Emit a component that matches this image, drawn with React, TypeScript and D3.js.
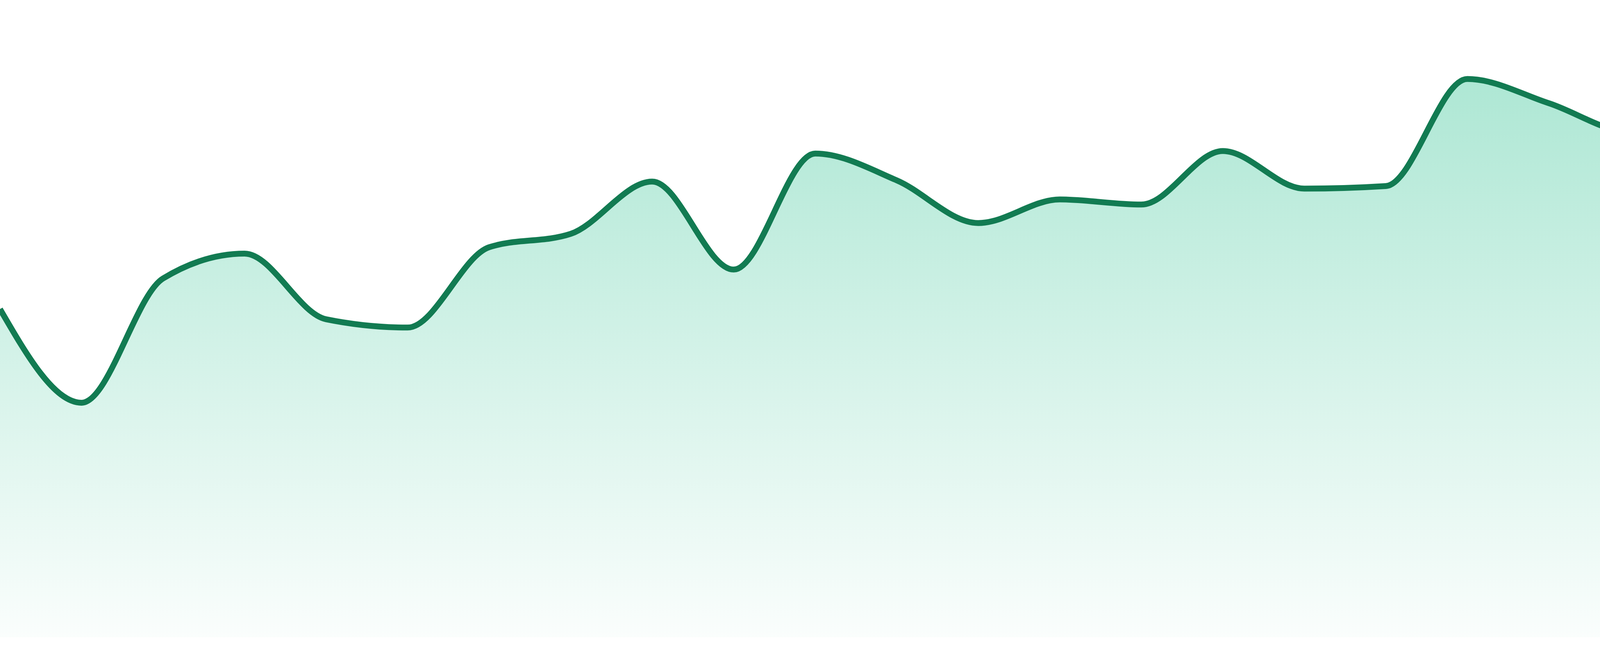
import React, { useEffect, useRef } from 'react';
import * as d3 from 'd3';

// one value per period
const periods = d3.range(1, 25);
const values = [
  51.5, 36.8, 56.3, 60.2, 49.9, 48.6, 61.2, 63.3, 71.5, 57.7, 75.9, 71.7,
  65.0, 68.7, 67.9, 76.3, 70.4, 70.8, 87.6, 83.8, 79.2, 78.9, 87.3, 77.8,
];

const lineColor = '#127b52';
const fillColor = '#10b981';

function TrendArea({ width = 4800, height = 1680 }: { width?: number; height?: number }) {
  const svgRef = useRef<SVGSVGElement>(null);

  useEffect(() => {
    if (!svgRef.current) return;
    const svg = d3.select(svgRef.current);
    svg.selectAll('*').remove();

    const baseline = 1632;
    const data = periods.map((p, i) => ({ period: p, value: values[i] }));

    const xScale = d3.scaleLinear()
      .domain([periods[0], periods[periods.length - 1]])
      .range([0, width]);

    const yScale = d3.scaleLinear()
      .domain([0, 100])
      .range([baseline, 0]);

    const topY = yScale(d3.max(values) as number);

    // soft green fade from the highest point down to the baseline
    const grad = svg.append('defs').append('linearGradient')
      .attr('id', 'areaFill')
      .attr('gradientUnits', 'userSpaceOnUse')
      .attr('x1', 0).attr('x2', 0)
      .attr('y1', topY).attr('y2', baseline);
    grad.append('stop').attr('offset', '0%').attr('stop-color', fillColor).attr('stop-opacity', 0.34);
    grad.append('stop').attr('offset', '100%').attr('stop-color', fillColor).attr('stop-opacity', 0.02);

    const area = d3.area<{ period: number; value: number }>()
      .x(d => xScale(d.period))
      .y0(baseline)
      .y1(d => yScale(d.value))
      .curve(d3.curveMonotoneX);

    const line = d3.line<{ period: number; value: number }>()
      .x(d => xScale(d.period))
      .y(d => yScale(d.value))
      .curve(d3.curveMonotoneX);

    svg.append('path')
      .datum(data)
      .attr('fill', 'url(#areaFill)')
      .attr('d', area);

    svg.append('path')
      .datum(data)
      .attr('fill', 'none')
      .attr('stroke', lineColor)
      .attr('stroke-width', 15)
      .attr('stroke-linejoin', 'round')
      .attr('d', line);
  }, [width, height]);

  return (
    <svg
      ref={svgRef}
      width={width}
      height={height}
      style={{ position: 'absolute', left: 0, top: 0, background: '#fff', display: 'block' }}
    />
  );
}

export default function App() {
  return <TrendArea />;
}
